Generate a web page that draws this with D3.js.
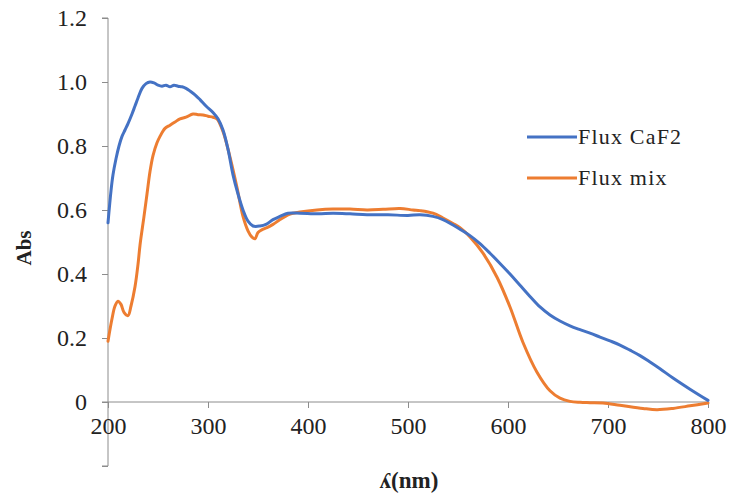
<!DOCTYPE html>
<html>
<head>
<meta charset="utf-8">
<script src="https://cdn.jsdelivr.net/npm/d3@7"></script>
<style>
  html, body { margin: 0; padding: 0; background: #fff; }
  svg { display: block; }
  text { font-family: "Liberation Serif", "Times New Roman", serif; fill: #222; }
</style>
</head>
<body>
<svg id="chart" width="729" height="497"></svg>
<script>
// Absorbance spectra (wavelength in nm, absorbance)
const wavelengthCaF2 = [200, 203, 205, 208, 211, 214, 217, 220, 224, 227, 230, 234, 238, 242, 246, 250, 254, 258, 262, 266, 270, 274, 278, 282, 287, 292, 298, 305, 310, 315, 320, 325, 330, 335, 340, 345, 352, 358, 365, 372, 380, 392, 410, 425, 442, 459, 480, 500, 512, 525, 535, 545, 552, 562, 572, 582, 592, 602, 612, 622, 632, 642, 652, 662, 672, 682, 692, 702, 712, 722, 732, 742, 752, 765, 782, 800];
const absCaF2 = [0.56, 0.66, 0.71, 0.76, 0.8, 0.83, 0.85, 0.87, 0.9, 0.925, 0.95, 0.98, 0.995, 1.0, 0.997, 0.99, 0.987, 0.99, 0.985, 0.99, 0.987, 0.985, 0.98, 0.972, 0.96, 0.945, 0.925, 0.905, 0.885, 0.85, 0.79, 0.71, 0.65, 0.6, 0.565, 0.55, 0.55, 0.555, 0.57, 0.58, 0.59, 0.59, 0.588, 0.59, 0.588, 0.585, 0.585, 0.583, 0.585, 0.58, 0.57, 0.553, 0.54, 0.52, 0.495, 0.465, 0.433, 0.4, 0.365, 0.33, 0.297, 0.272, 0.253, 0.238, 0.226, 0.215, 0.203, 0.191, 0.178, 0.162, 0.145, 0.125, 0.104, 0.075, 0.04, 0.005];

const wavelengthMix = [200, 204, 207, 210, 213, 216, 220, 223, 227, 230, 232, 236, 239, 242, 245, 249, 252, 257, 262, 267, 272, 278, 285, 290, 295, 300, 305, 309, 315, 322, 329, 335, 340, 344, 347, 350, 355, 359, 365, 372, 380, 385, 392, 409, 425, 442, 459, 475, 492, 505, 512, 525, 535, 545, 552, 562, 575, 589, 602, 615, 629, 642, 652, 662, 672, 682, 695, 712, 735, 749, 765, 782, 800];
const absMix = [0.19, 0.26, 0.3, 0.315, 0.305, 0.28, 0.27, 0.3, 0.36, 0.43, 0.49, 0.58, 0.65, 0.72, 0.77, 0.81, 0.83, 0.855, 0.865, 0.875, 0.885, 0.89, 0.9, 0.898, 0.897, 0.893, 0.89, 0.885, 0.845, 0.765, 0.67, 0.58, 0.535, 0.515, 0.51, 0.53, 0.54, 0.545, 0.555, 0.57, 0.585, 0.59, 0.594, 0.6, 0.603, 0.603, 0.6, 0.602, 0.605, 0.6, 0.598, 0.59, 0.575, 0.558, 0.545, 0.516, 0.465, 0.39, 0.297, 0.186, 0.093, 0.035, 0.012, 0.002, -0.001, -0.002, -0.003, -0.01, -0.02, -0.024, -0.02, -0.012, -0.003];

const seriesNames = ["Flux CaF2", "Flux mix"];
const seriesColors = ["#4472C4", "#ED7D31"];
const xTicks = [200, 300, 400, 500, 600, 700, 800];
const yTicks = [-0.2, 0, 0.2, 0.4, 0.6, 0.8, 1.0, 1.2];
const yTickLabels = ["", "0", "0.2", "0.4", "0.6", "0.8", "1.0", "1.2"];

const svg = d3.select("#chart");
const axisColor = "#8c8c8c";

const x = d3.scaleLinear().domain([200, 800]).range([108, 708]);
const y = d3.scaleLinear().domain([-0.2, 1.2]).range([466, 18]);

// Vertical axis with outward ticks, spanning the full value range
const yAxis = svg.append("g")
  .attr("transform", `translate(${x(200)},0)`)
  .call(d3.axisLeft(y).tickValues(yTicks).tickSize(6)
    .tickFormat((d, i) => yTickLabels[i]));
yAxis.select(".domain").attr("stroke", axisColor).attr("d", `M-6,${y(-0.2)}H0V${y(1.2)}H-6`);
yAxis.selectAll(".tick line").attr("stroke", axisColor);
yAxis.selectAll(".tick text")
  .attr("x", -21)
  .style("font-size", "24px")
  .style("fill", "#222")
  .style("font-family", "'Liberation Serif', serif");

// Horizontal axis crossing at zero
const xAxis = svg.append("g")
  .attr("transform", `translate(0,${y(0)})`)
  .call(d3.axisBottom(x).tickValues(xTicks).tickSize(6).tickFormat(d3.format("d")));
xAxis.select(".domain").attr("stroke", axisColor).attr("d", `M${x(200) - 6},0H${x(800)}`);
xAxis.selectAll(".tick line").attr("stroke", axisColor);
xAxis.selectAll(".tick text")
  .attr("y", 15)
  .style("font-size", "24px")
  .style("fill", "#222")
  .style("font-family", "'Liberation Serif', serif");

// Spectra
const line = d3.line()
  .x(d => x(d[0]))
  .y(d => y(d[1]))
  .curve(d3.curveCatmullRom.alpha(0.5));

const series = [
  d3.zip(wavelengthCaF2, absCaF2),
  d3.zip(wavelengthMix, absMix)
];

// Draw the mix curve first so the CaF2 curve sits on top where they overlap
[1, 0].forEach(i => {
  svg.append("path")
    .datum(series[i])
    .attr("fill", "none")
    .attr("stroke", seriesColors[i])
    .attr("stroke-width", 3)
    .attr("stroke-linejoin", "round")
    .attr("stroke-linecap", "round")
    .attr("d", line);
});

// Axis titles
svg.append("text")
  .attr("transform", `translate(31,248) rotate(-90)`)
  .attr("text-anchor", "middle")
  .style("font-size", "21px")
  .style("font-weight", "bold")
  .text("Abs");

svg.append("text")
  .attr("x", 409)
  .attr("y", 488)
  .attr("text-anchor", "middle")
  .style("font-size", "23px")
  .style("font-weight", "bold")
  .text("ʎ(nm)");

// Legend
const legend = svg.append("g");
seriesNames.forEach((name, i) => {
  const ly = 137 + i * 41;
  legend.append("line")
    .attr("x1", 527).attr("x2", 577)
    .attr("y1", ly).attr("y2", ly)
    .attr("stroke", seriesColors[i])
    .attr("stroke-width", 3);
  legend.append("text")
    .attr("x", 578)
    .attr("y", ly + 7)
    .style("font-size", "22px")
    .style("letter-spacing", "1.2px")
    .text(name);
});
</script>
</body>
</html>
